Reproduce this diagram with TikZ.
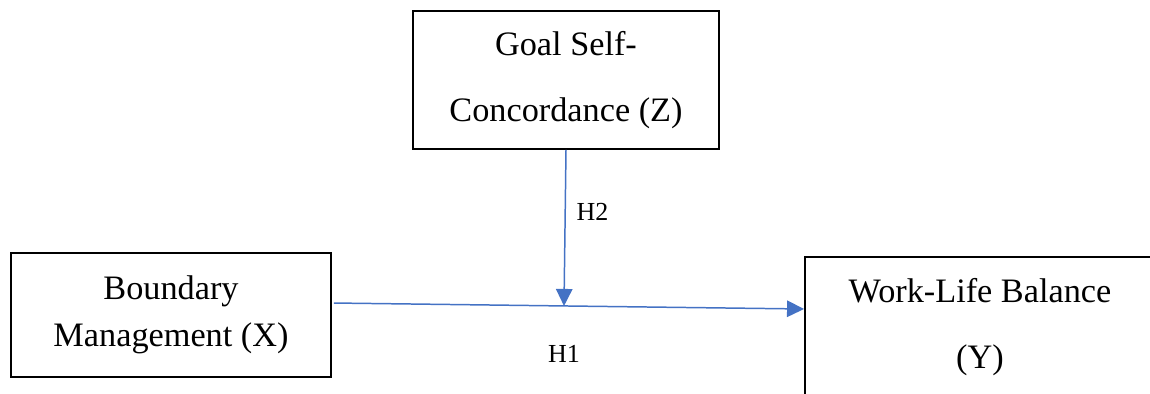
\documentclass[tikz,border=0pt]{standalone}
\usepackage{fontspec}
\setmainfont{Liberation Serif}
\usetikzlibrary{arrows.meta,positioning,calc}
\definecolor{mdedge}{RGB}{0,0,0}
\definecolor{mdarrow}{RGB}{68,114,196}
\tikzset{
  varbox/.style={
    draw=mdedge, line width=1.1pt, align=center, inner sep=0pt,
    font=\fontsize{19.5}{26.7}\selectfont
  },
  wide/.style={font=\fontsize{19.5}{37.5}\selectfont},
  arr/.style={-{Triangle[length=3.4mm,width=3.3mm]}, draw=mdarrow, line width=0.85pt},
  lbl/.style={font=\fontsize{14.8}{17}\selectfont, inner sep=0pt}
}
\begin{document}
\begin{tikzpicture}
  \useasboundingbox (0,0) rectangle (23,7.88);
  \clip (0,0) rectangle (23,7.88);

  % variables
  \node[varbox, wide, minimum width=6.12cm, minimum height=2.76cm] (gsc) at (11.32,6.28)
    {Goal Self-\\Concordance (Z)};
  \node[varbox, minimum width=6.40cm, minimum height=2.48cm] (bm) at (3.42,1.58)
    {Boundary\\Management (X)};
  \node[varbox, wide, minimum width=7.0cm, minimum height=2.8cm] (wlb) at (19.60,1.34)
    {Work-Life Balance\\(Y)};

  % paths
  \coordinate (h1s) at ([yshift=0.24cm]bm.east);
  \coordinate (h1e) at ([yshift=0.36cm]wlb.west);
  \coordinate (meet) at ($(h1s)!(gsc.south)!(h1e)$);
  \draw[arr, shorten <=0.04cm] (h1s) -- (h1e);
  \draw[arr] (gsc.south) -- (meet);

  \node[lbl, anchor=west, xshift=0.22cm] (h2) at ($(gsc.south)!0.4!(meet)$) {H2};
  \node[lbl, below=0.79cm of meet] (h1) {H1};
\end{tikzpicture}
\end{document}
